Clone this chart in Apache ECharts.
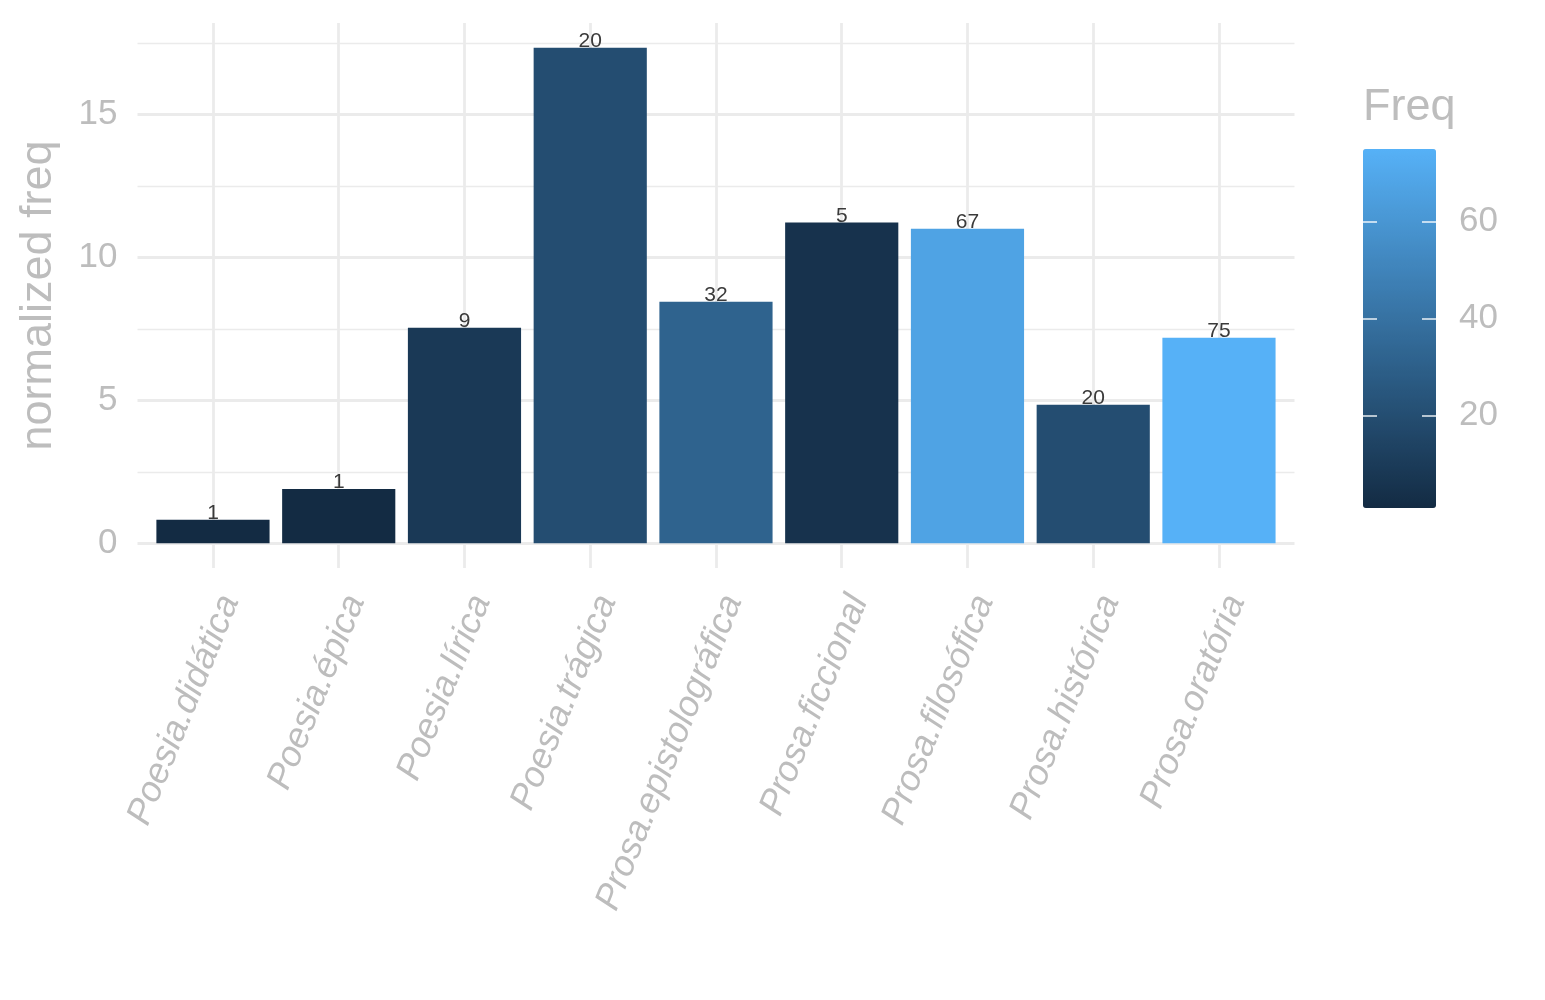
<!DOCTYPE html>
<html>
<head>
<meta charset="utf-8">
<title>normalized freq</title>
<script src="https://cdn.jsdelivr.net/npm/echarts@6/dist/echarts.min.js"></script>
<style>
  html, body { margin: 0; padding: 0; background: #fff; }
  #chart { width: 1545px; height: 1000px; }
</style>
</head>
<body>
<div id="chart"></div>
<script>
// data
var categories = ['Poesia.didática', 'Poesia.épica', 'Poesia.lírica', 'Poesia.trágica',
  'Prosa.epistolográfica', 'Prosa.ficcional', 'Prosa.filosófica', 'Prosa.histórica', 'Prosa.oratória'];
var normFreq = [0.82, 1.90, 7.54, 17.33, 8.45, 11.22, 11.00, 4.84, 7.19];
var freq = [1, 1, 9, 20, 32, 5, 67, 20, 75];
var yMajorTicks = [0, 5, 10, 15];
var yMinorTicks = [2.5, 7.5, 12.5, 17.5];
var freqTicks = [20, 40, 60];

var yMax = 18.2;     // ggplot 5% expansion
var yMin = -0.867;
var gray = '#bdbdbd';
var gridCol = '#ebebeb';
var tickCol = 'rgba(255,255,255,0.85)';
var font = 'Liberation Sans';

var myChart = echarts.init(document.getElementById('chart'));

var barData = categories.map(function (c, i) {
  return [i, normFreq[i], freq[i]];
});

var option = {
  backgroundColor: '#fff',
  animation: false,
  textStyle: { fontFamily: font },
  title: {
    text: 'Freq',
    left: 1363,
    top: 85,
    padding: 0,
    textStyle: { color: gray, fontSize: 45, fontWeight: 'normal', fontFamily: font }
  },
  grid: [
    // background panel (horizontal grid lines + y labels)
    { left: 137.5, top: 23, width: 1157, height: 545 },
    // bars
    { left: 150.1, top: 23, width: 1131.75, height: 545 },
    // colour bar ticks
    { left: 1363, top: 149, width: 73, height: 359 }
  ],
  xAxis: [
    { gridIndex: 0, type: 'value', min: 0, max: 1, show: false },
    {
      gridIndex: 1, type: 'category', data: categories,
      axisLine: { show: false, onZero: false },
      axisTick: {
        show: true, inside: true, length: 545, alignWithLabel: true,
        lineStyle: { color: gridCol, width: 2.8 }
      },
      splitLine: { show: false },
      axisLabel: {
        interval: 0, rotate: 68, align: 'right', verticalAlign: 'top', margin: 22,
        color: gray, fontSize: 36, fontStyle: 'italic', fontFamily: font
      }
    },
    { gridIndex: 2, type: 'value', min: 0, max: 1, show: false }
  ],
  yAxis: [
    {
      gridIndex: 0, type: 'value', min: yMin, max: yMax,
      name: 'normalized freq', nameLocation: 'middle', nameGap: 76,
      nameTextStyle: { color: gray, fontSize: 45, fontFamily: font },
      axisLine: { show: false },
      axisTick: { show: false, customValues: yMajorTicks },
      axisLabel: { customValues: yMajorTicks, color: gray, fontSize: 35, margin: 20, fontFamily: font },
      splitLine: { show: true, lineStyle: { color: gridCol, width: 2.8 } }
    },
    {
      gridIndex: 0, type: 'value', min: yMin, max: yMax, position: 'left',
      axisLine: { show: false },
      axisTick: { show: false, customValues: yMinorTicks },
      axisLabel: { show: false, customValues: yMinorTicks },
      splitLine: { show: true, lineStyle: { color: gridCol, width: 1.4 } }
    },
    {
      gridIndex: 1, type: 'value', min: yMin, max: yMax, show: false
    },
    // colour bar labels
    {
      gridIndex: 2, type: 'value', min: 1, max: 75, position: 'right', z: 10,
      axisLine: { show: false },
      splitLine: { show: false },
      axisTick: { show: false, customValues: freqTicks },
      axisLabel: { customValues: freqTicks, color: gray, fontSize: 35, margin: 23, fontFamily: font }
    },
    // colour bar ticks, left edge
    {
      gridIndex: 2, type: 'value', min: 1, max: 75, position: 'left', z: 10,
      axisLine: { show: false },
      splitLine: { show: false },
      axisTick: {
        show: true, inside: true, length: 14, customValues: freqTicks,
        lineStyle: { color: tickCol, width: 1.6 }
      },
      axisLabel: { show: false, customValues: freqTicks }
    },
    // colour bar ticks, right edge
    {
      gridIndex: 2, type: 'value', min: 1, max: 75, position: 'left', offset: -73, z: 10,
      axisLine: { show: false },
      splitLine: { show: false },
      axisTick: {
        show: true, inside: false, length: 14, customValues: freqTicks,
        lineStyle: { color: tickCol, width: 1.6 }
      },
      axisLabel: { show: false, customValues: freqTicks }
    }
  ],
  visualMap: {
    type: 'continuous',
    min: 1,
    max: 75,
    dimension: 2,
    seriesIndex: 0,
    left: 1363,
    top: 149,
    padding: 0,
    itemWidth: 73,
    itemHeight: 359,
    calculable: false,
    hoverLink: false,
    text: null,
    inRange: { color: ['#132B43', '#56B1F7'] }
  },
  series: [
    {
      type: 'bar',
      xAxisIndex: 1,
      yAxisIndex: 2,
      barWidth: '90%',
      data: barData,
      encode: { x: 0, y: 1 },
      label: {
        show: true,
        position: 'top',
        distance: -4,
        color: '#3a3a3a',
        fontSize: 21,
        fontFamily: font,
        formatter: function (p) { return p.value[2]; }
      }
    }
  ]
};

if (option && typeof option === "object") {
  myChart.setOption(option, true);
}
</script>
</body>
</html>
